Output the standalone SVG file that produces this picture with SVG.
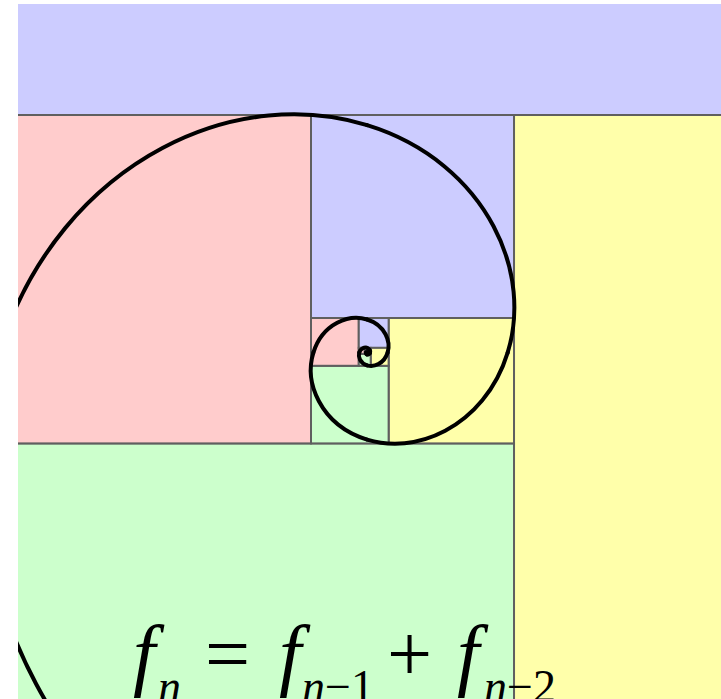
<svg xmlns="http://www.w3.org/2000/svg" width="721" height="699" viewBox="0 0 721 699">
<style>
.sq{stroke:#5f5f5f;stroke-width:2}
.b{fill:#ccccff}.r{fill:#ffcccc}.g{fill:#ccffcc}.y{fill:#ffffaa}
.sp{fill:none;stroke:#000;stroke-width:4;stroke-linecap:round;vector-effect:non-scaling-stroke}
.eq text{font-family:'Liberation Serif','Times New Roman',serif;fill:#000}
.big{font-size:80px}.sub{font-size:46px}.it{font-style:italic}
</style>
<defs>
<clipPath id="clip"><rect x="18" y="4" width="703" height="695"/></clipPath>
<path id="q" class="sp" vector-effect="non-scaling-stroke" d="M1,0 C1.081248,-0.265216 1.064931,-0.587834 0.89946,-0.89946 C0.733989,-1.211086 0.42913,-1.486572 0,-1.618034"/>
</defs>
<g clip-path="url(#clip)">
<g id="squares">
<rect id="sq233" class="sq b" x="-17.405" y="-1276.243" width="1391.243" height="1391.243"/>
<rect id="sq144" class="sq y" x="514.014" y="115" width="859.824" height="859.824"/>
<rect id="sq89" class="sq g" x="-17.405" y="443.405" width="531.419" height="531.419"/>
<rect id="sq55" class="sq r" x="-17.405" y="115" width="328.405" height="328.405"/>
<rect id="sq34" class="sq b" x="311" y="115" width="203.014" height="203.014"/>
<rect id="sq21" class="sq y" x="388.623" y="318.014" width="125.391" height="125.391"/>
<rect id="sq13" class="sq g" x="311" y="365.782" width="77.623" height="77.623"/>
<rect id="sq8" class="sq r" x="311" y="318.014" width="47.768" height="47.768"/>
<rect id="sq5" class="sq b" x="358.768" y="318.014" width="29.855" height="29.855"/>
<rect id="sq3" class="sq y" x="370.71" y="347.869" width="17.913" height="17.913"/>
<rect id="sq2" class="sq g" x="358.768" y="353.84" width="11.942" height="11.942"/>
<rect id="sq1a" class="sq r" x="358.768" y="347.869" width="5.971" height="5.971"/>
<rect id="sq1b" class="sq b" x="364.739" y="347.869" width="5.971" height="5.971"/>
</g>
<g id="spiral">
<use href="#q" transform="translate(367.08 352.67) rotate(-180) scale(368.07)"/>
<use href="#q" transform="translate(367.08 352.67) rotate(-90) scale(227.48)"/>
<use href="#q" transform="translate(367.08 352.67) scale(140.59)"/>
<use href="#q" transform="translate(367.08 352.67) rotate(90) scale(86.889)"/>
<use href="#q" transform="translate(367.08 352.67) rotate(180) scale(53.701)"/>
<use href="#q" transform="translate(367.08 352.67) rotate(270) scale(33.189)"/>
<use href="#q" transform="translate(367.08 352.67) scale(20.512)"/>
<use href="#q" transform="translate(367.08 352.67) rotate(90) scale(12.677)"/>
<use href="#q" transform="translate(367.08 352.67) rotate(180) scale(7.835)"/>
<use href="#q" transform="translate(367.08 352.67) rotate(270) scale(4.842)"/>
<use href="#q" transform="translate(367.08 352.67) scale(2.993)"/>
<use href="#q" transform="translate(367.08 352.67) rotate(90) scale(1.85)"/>
<use href="#q" transform="translate(367.08 352.67) rotate(180) scale(1.143)"/>
<use href="#q" transform="translate(367.08 352.67) rotate(270) scale(0.7065)"/>
</g>
</g>
<g id="formula" class="eq">
<text x="133" y="681" class="big it">f</text>
<text x="158" y="702" class="sub it">n</text>
<text x="205" y="681" class="big">=</text>
<text x="279" y="681" class="big it">f</text>
<text x="302" y="702" class="sub"><tspan class="it">n</tspan>−1</text>
<text x="387" y="681" class="big">+</text>
<text x="457" y="681" class="big it">f</text>
<text x="484" y="702" class="sub"><tspan class="it">n</tspan>−2</text>
</g>
</svg>
